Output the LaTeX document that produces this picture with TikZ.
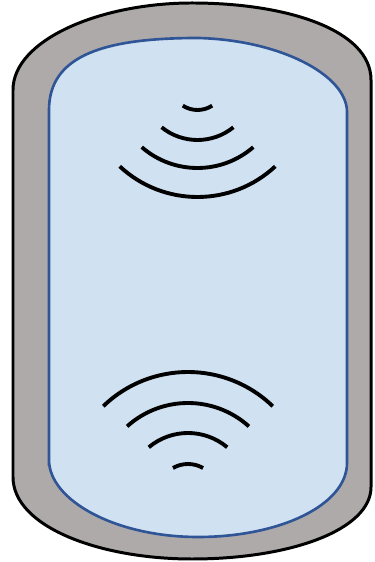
\documentclass[tikz,border=0pt]{standalone}
\usepackage{tikz}
\usepackage{xcolor}

\definecolor{wallgray}{HTML}{AEAAAA}
\definecolor{tankblue}{HTML}{D0E1F1}
\definecolor{rimblue}{HTML}{2F5597}

\begin{document}
\begin{tikzpicture}[scale=0.02,
    wave/.style={line width=2.2pt, black}]
    % Setup
    \useasboundingbox (0,0) rectangle (374,562);

    % Outer shell
    \draw[fill=wallgray, line width=1.7pt]
        (13,85) -- (13,472)
        .. controls (13,522) and (100,559) .. (192,559)
        .. controls (287,559) and (371,532) .. (371,482)
        -- (371,75)
        .. controls (371,32) and (290,3) .. (192,3)
        .. controls (100,3) and (13,35) .. cycle;

    % Inner vessel
    \draw[fill=tankblue, draw=rimblue, line width=1.5pt]
        (49,102) -- (49,452)
        .. controls (49,507) and (105,524) .. (198,524)
        .. controls (280,522) and (347,487) .. (347,450)
        -- (347,99)
        .. controls (347,57) and (280,25) .. (198,25)
        .. controls (115,25) and (49,62) .. cycle;

    % Upper waves (opening downwards)
    \foreach \r/\h in {27/33, 57/39, 85/41, 114/43} {
        \draw[wave] (197.5,479) ++(270-\h:\r) arc[start angle=270-\h, end angle=270+\h, radius=\r];
    }

    % Lower waves (opening upwards)
    \foreach \r/\h in {30/30, 61/40, 91/42, 122/44} {
        \draw[wave] (188,68) ++(90-\h:\r) arc[start angle=90-\h, end angle=90+\h, radius=\r];
    }
\end{tikzpicture}
\end{document}
